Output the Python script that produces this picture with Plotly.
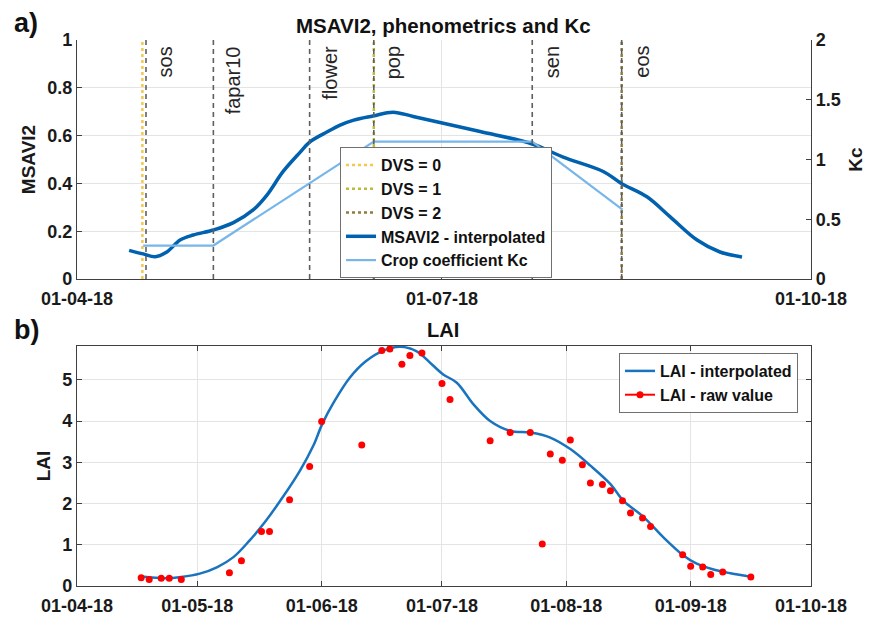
import plotly.graph_objects as go
import pandas as pd

START = pd.Timestamp("2018-04-01")

def to_dates(days):
    return [START + pd.Timedelta(days=d) for d in days]

# ---------------- panel a) data (days since 01-04-18) ----------------
msavi_days = [13, 16.5, 19.5, 22.4, 25.7, 29, 34, 39, 44, 47.3, 51.4, 55.6, 58, 62.3,
              65.6, 69, 73.8, 78.8, 83.8, 90.5, 100.5, 113.5, 121.2, 131.2, 135.7, 142.1,
              147.9, 154.6, 160.3, 165.8]
msavi_vals = [0.12, 0.105, 0.093, 0.113, 0.163, 0.184, 0.205, 0.236, 0.29, 0.35, 0.45,
              0.53, 0.573, 0.615, 0.644, 0.665, 0.682, 0.698, 0.68, 0.655, 0.617, 0.565,
              0.51, 0.45, 0.40, 0.344, 0.26, 0.163, 0.113, 0.092]

kc_days = [16.5, 34, 74, 113.5, 136]
kc_vals = [0.28, 0.28, 1.15, 1.15, 0.58]

pheno_names = ["sos", "fapar10", "flower", "pop", "sen", "eos"]
pheno_days = [17.2, 34, 58, 74, 113.5, 135.8]

dvs_names = ["DVS = 0", "DVS = 1", "DVS = 2"]
dvs_days = [16.3, 74, 135.8]

# ---------------- panel b) data ----------------
lai_raw_days = [16, 18, 21, 23, 26, 38, 41, 46, 48, 53, 58, 61, 71, 76, 78, 81, 83, 86,
                91, 93, 103, 108, 113, 116, 118, 121, 123, 126, 128, 131, 133, 136, 138,
                141, 143, 151, 153, 156, 158, 161, 168]
lai_raw_vals = [0.20, 0.155, 0.19, 0.19, 0.16, 0.32, 0.61, 1.32, 1.32, 2.09, 2.90, 3.99,
                3.42, 5.71, 5.75, 5.38, 5.59, 5.65, 4.91, 4.52, 3.52, 3.72, 3.72, 1.02,
                3.20, 3.05, 3.54, 2.94, 2.50, 2.46, 2.31, 2.07, 1.77, 1.65, 1.44, 0.76,
                0.48, 0.46, 0.28, 0.34, 0.22]

lai_int_days = [16, 22, 26, 30.6, 35, 39, 43, 47, 51.4, 55.6, 59, 61.1, 64, 68, 72, 76.4,
                80.6, 84.7, 88.5, 91.3, 94.7, 98.8, 103, 108, 113, 118, 123, 128, 133,
                136.2, 141.3, 146.2, 151.2, 154.5, 158.7, 162.9, 168.3]
lai_int_vals = [0.23, 0.19, 0.22, 0.30, 0.46, 0.70, 1.10, 1.57, 2.17, 2.80, 3.42, 3.92,
                4.45, 5.05, 5.45, 5.71, 5.80, 5.69, 5.37, 5.13, 4.93, 4.41, 4.00, 3.76,
                3.72, 3.60, 3.32, 2.92, 2.47, 2.07, 1.67, 1.18, 0.74, 0.54, 0.40, 0.31, 0.22]

top_ticks = ["2018-04-01", "2018-07-01", "2018-10-01"]
bottom_ticks = ["2018-04-01", "2018-05-01", "2018-06-01", "2018-07-01", "2018-08-01",
                "2018-09-01", "2018-10-01"]

# ---------------- styles ----------------
FONT = "Liberation Sans, Arial, sans-serif"
AX = "#404040"
GRID = "#e4e4e4"
C_MSAVI = "#0061AE"
C_KC = "#78B6EA"
C_LAI = "#1A73BE"
C_RED = "#FF0000"
DVS_COLORS = ["#F2C94E", "#BDBB3E", "#8E7D3E"]

XDOM = [77 / 870, 811 / 870]
YDOM_A = [1 - 279 / 617, 1 - 40 / 617]
YDOM_B = [1 - 586 / 617, 1 - 346 / 617]

fig = go.Figure()

shapes = []
annotations = []
for name, d in zip(pheno_names, pheno_days):
    x = START + pd.Timedelta(days=d)
    shapes.append(dict(type="line", xref="x", yref="y domain", x0=x, x1=x, y0=0, y1=1,
                       line=dict(color="#5f5f5f", width=1.6, dash="5px,4px"), layer="above"))
    annotations.append(dict(x=x, y=1, xref="x", yref="y domain", text=name, showarrow=False,
                            textangle=-90, xanchor="left", yanchor="top", xshift=7, yshift=-4,
                            font=dict(family=FONT, size=20, color="#262626")))

for name, d, c in zip(dvs_names, dvs_days, DVS_COLORS):
    x = START + pd.Timedelta(days=d)
    fig.add_trace(go.Scatter(x=[x, x], y=[0, 1], mode="lines", name=name,
                             line=dict(color=c, width=2.5, dash="dot"),
                             xaxis="x", yaxis="y", legend="legend"))

fig.add_trace(go.Scatter(x=to_dates(msavi_days), y=msavi_vals, mode="lines",
                         name="MSAVI2 - interpolated",
                         line=dict(color=C_MSAVI, width=3.5, shape="spline", smoothing=1),
                         xaxis="x", yaxis="y", legend="legend"))
fig.add_trace(go.Scatter(x=to_dates(kc_days), y=kc_vals, mode="lines",
                         name="Crop coefficient Kc", line=dict(color=C_KC, width=2.2),
                         xaxis="x", yaxis="y2", legend="legend"))

fig.add_trace(go.Scatter(x=to_dates(lai_int_days), y=lai_int_vals, mode="lines",
                         name="LAI - interpolated",
                         line=dict(color=C_LAI, width=2.5, shape="spline", smoothing=1),
                         xaxis="x2", yaxis="y3", legend="legend2"))
fig.add_trace(go.Scatter(x=to_dates(lai_raw_days), y=lai_raw_vals, mode="markers",
                         name="LAI - raw value", marker=dict(color=C_RED, size=7),
                         xaxis="x2", yaxis="y3", showlegend=False))
fig.add_trace(go.Scatter(x=[None], y=[None], mode="lines+markers", name="LAI - raw value",
                         line=dict(color=C_RED, width=2), marker=dict(color=C_RED, size=7),
                         xaxis="x2", yaxis="y3", legend="legend2"))

tickfont = dict(family=FONT, size=18, color="#1a1a1a", weight="bold")
titlefont = dict(family=FONT, size=19, color="#1a1a1a", weight="bold")

common_x = dict(type="date", range=["2018-04-01", "2018-10-01"], tickformat="%d-%m-%y",
                showgrid=True, gridcolor=GRID, showline=True, linecolor=AX, linewidth=1.2,
                ticks="inside", ticklen=5, tickcolor=AX, tickfont=tickfont, zeroline=False,
                automargin=False, ticklabelstandoff=3)
common_y = dict(showgrid=True, gridcolor=GRID, showline=True, linecolor=AX, linewidth=1.2,
                ticks="inside", ticklen=5, tickcolor=AX, tickfont=tickfont, zeroline=False,
                automargin=False)

annotations += [
    dict(x=26 / 870, y=1 - 23 / 617, xref="paper", yref="paper", text="a)", showarrow=False,
         xanchor="center", yanchor="middle",
         font=dict(family=FONT, size=27, color="#111", weight="bold")),
    dict(x=26 / 870, y=1 - 330 / 617, xref="paper", yref="paper", text="b)", showarrow=False,
         xanchor="center", yanchor="middle",
         font=dict(family=FONT, size=27, color="#111", weight="bold")),
    dict(x=443 / 870, y=1 - 25 / 617, xref="paper", yref="paper",
         text="MSAVI2, phenometrics and Kc", showarrow=False,
         xanchor="center", yanchor="middle",
         font=dict(family=FONT, size=20.5, color="#111", weight="bold")),
    dict(x=443 / 870, y=1 - 330 / 617, xref="paper", yref="paper", text="LAI",
         showarrow=False, xanchor="center", yanchor="middle",
         font=dict(family=FONT, size=20, color="#111", weight="bold")),
]

fig.update_layout(
    width=870, height=617, margin=dict(l=0, r=0, t=0, b=0, autoexpand=False),
    paper_bgcolor="white", plot_bgcolor="white",
    font=dict(family=FONT),
    xaxis=dict(common_x, domain=XDOM, anchor="y", tickvals=top_ticks),
    yaxis=dict(common_y, domain=YDOM_A, anchor="x", range=[0, 1], dtick=0.2,
               title=dict(text="MSAVI2", font=titlefont, standoff=6)),
    yaxis2=dict(common_y, overlaying="y", side="right", anchor="x", range=[0, 2], dtick=0.5,
                showgrid=False, title=dict(text="Kc", font=titlefont, standoff=8)),
    xaxis2=dict(common_x, domain=XDOM, anchor="y3", tickvals=bottom_ticks, mirror="ticks"),
    yaxis3=dict(common_y, domain=YDOM_B, anchor="x2", range=[0, 5.82], dtick=1,
                mirror="ticks", title=dict(text="LAI", font=titlefont, standoff=6)),
    legend=dict(x=340 / 870, y=1 - 278 / 617, xanchor="left", yanchor="bottom",
                bgcolor="white", bordercolor="#707070", borderwidth=1,
                font=dict(family=FONT, size=16, color="#111", weight="bold"),
                itemwidth=30, tracegroupgap=0),
    legend2=dict(x=619 / 870, y=1 - 353 / 617, xanchor="left", yanchor="top",
                 bgcolor="white", bordercolor="#707070", borderwidth=1,
                 font=dict(family=FONT, size=16, color="#111", weight="bold"),
                 itemwidth=30),
    shapes=shapes, annotations=annotations, showlegend=True,
)

fig.write_html("out.html")
